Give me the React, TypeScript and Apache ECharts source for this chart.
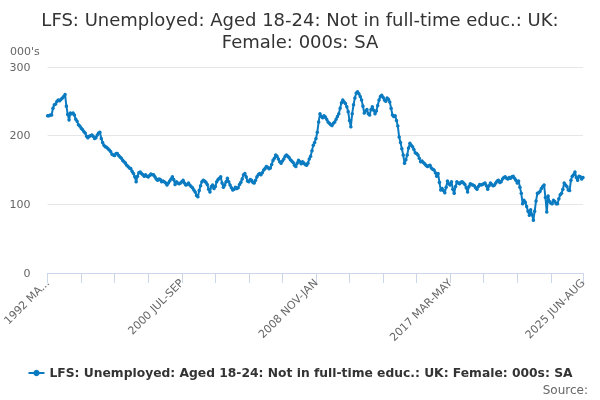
import * as echarts from "echarts";
import { useEffect, useRef } from "react";

const MONTHS = ["JAN", "FEB", "MAR", "APR", "MAY", "JUN", "JUL", "AUG", "SEP", "OCT", "NOV", "DEC"];

// rolling quarters, 1992 MAR-MAY .. 2025 JUN-AUG
const periods: string[] = [];
for (let k = 0; k < 400; k++) {
	const m = 2 + k;
	const year = 1992 + Math.floor(m / 12);
	periods.push(`${year} ${MONTHS[m % 12]}-${MONTHS[(m + 2) % 12]}`);
}

const femaleUnemployed = [
	229, 229, 230, 230, 240, 245, 246, 250, 252, 251,
	253, 255, 257, 260, 243, 231, 223, 233, 232, 233,
	230, 224, 221, 216, 214, 211, 209, 206, 204, 199,
	197, 199, 200, 201, 199, 196, 197, 201, 204, 205,
	196, 190, 186, 184, 183, 181, 179, 177, 173, 172,
	171, 174, 174, 171, 169, 167, 164, 162, 160, 157,
	155, 153, 152, 148, 145, 140, 133, 141, 146, 147,
	145, 143, 141, 143, 141, 140, 142, 144, 143, 143,
	140, 137, 135, 137, 136, 133, 134, 133, 131, 128,
	131, 134, 137, 140, 136, 129, 133, 131, 130, 131,
	133, 135, 131, 128, 129, 131, 128, 126, 124, 121,
	118, 113, 111, 120, 127, 133, 135, 134, 132, 129,
	122, 118, 126, 128, 123, 126, 133, 136, 138, 140,
	131, 125, 128, 133, 138, 133, 128, 124, 121, 122,
	125, 123, 124, 129, 132, 137, 143, 145, 140, 134,
	133, 136, 135, 132, 131, 135, 140, 143, 145, 143,
	146, 150, 152, 155, 154, 152, 153, 158, 164, 167,
	172, 170, 166, 162, 160, 163, 166, 170, 172, 170,
	168, 165, 163, 161, 157, 155, 160, 164, 162, 159,
	162, 160, 158, 157, 160, 166, 170, 178, 186, 190,
	196, 205, 220, 232, 228, 226, 229, 227, 224, 220,
	218, 216, 215, 218, 220, 224, 228, 232, 240, 248,
	252, 249, 247, 242, 235, 222, 213, 232, 245, 255,
	262, 264, 261, 257, 252, 243, 233, 236, 238, 232,
	230, 238, 242, 237, 232, 236, 244, 252, 257, 259,
	256, 252, 250, 255, 253, 249, 240, 230, 228, 229,
	222, 214, 198, 190, 181, 172, 160, 165, 172, 182,
	189, 186, 184, 180, 175, 174, 172, 167, 162, 163,
	161, 159, 157, 155, 156, 157, 153, 151, 150, 146,
	141, 145, 132, 121, 123, 120, 117, 125, 134, 130,
	128, 133, 122, 116, 126, 133, 131, 130, 132, 133,
	131, 129, 124, 118, 126, 130, 129, 128, 127, 124,
	122, 126, 129, 128, 129, 130, 131, 127, 122, 127,
	131, 129, 127, 128, 131, 134, 135, 132, 133, 137,
	139, 140, 138, 137, 139, 138, 140, 141, 138, 135,
	131, 134, 125, 116, 101, 106, 103, 97, 90, 84,
	92, 85, 77, 90, 105, 116, 117, 119, 123, 126,
	128, 110, 89, 112, 104, 102, 101, 106, 104, 101,
	101, 108, 114, 116, 122, 131, 128, 126, 121, 120,
	135, 141, 143, 147, 139, 135, 141, 140, 137, 139,
];

const seriesName = "LFS: Unemployed: Aged 18-24: Not in full-time educ.: UK: Female: 000s: SA";
const FONT = "DejaVu Sans";
const BLUE = "#0b7bc1";

export default function App() {
	const chartRef = useRef<HTMLDivElement>(null);

	useEffect(() => {
		if (!chartRef.current) return;
		const chart = echarts.init(chartRef.current, null, { renderer: "svg" });
		const last = periods.length - 1;
		chart.setOption({
			animation: false,
			textStyle: { fontFamily: FONT },
			title: {
				text: "LFS: Unemployed: Aged 18-24: Not in full-time educ.: UK:\nFemale: 000s: SA",
				left: "center",
				top: 3,
				textStyle: { fontFamily: FONT, fontSize: 18, fontWeight: "normal", color: "#333333", lineHeight: 22 },
			},
			grid: { left: 47, right: 17, top: 67, bottom: 127 },
			legend: {
				bottom: 16,
				left: "center",
				itemWidth: 16,
				itemHeight: 8,
				itemGap: 4,
				textStyle: { fontFamily: FONT, fontSize: 12.3, fontWeight: "bold", color: "#333333" },
				data: [seriesName],
			},
			xAxis: {
				type: "category",
				data: periods,
				boundaryGap: false,
				axisLine: { lineStyle: { color: "#ccd6eb" } },
				axisTick: {
					length: 10,
					lineStyle: { color: "#ccd6eb" },
					interval: (i: number) => i % 25 === 0 || i === last,
				},
				axisLabel: {
					rotate: 45,
					color: "#666666",
					fontSize: 11,
					margin: 8,
					showMaxLabel: true,
					interval: (i: number) => i % 100 === 0 || i === last,
					formatter: (v: string, i: number) => (i === 0 ? v.slice(0, 7) + "..." : v),
				},
				splitLine: { show: false },
			},
			yAxis: {
				type: "value",
				min: 0,
				max: 300,
				interval: 100,
				axisLine: { show: false },
				axisTick: { show: false },
				axisLabel: { color: "#666666", fontSize: 11, margin: 17 },
				splitLine: { lineStyle: { color: "#e6e6e6" } },
			},
			graphic: [
				{ type: "text", left: 10, top: 46, style: { text: "000's", fill: "#666666", font: `11px "${FONT}"` } },
				{ type: "text", right: 12, bottom: 4, style: { text: "Source:", fill: "#666666", font: `12px "${FONT}"` } },
			],
			series: [
				{
					name: seriesName,
					type: "line",
					data: femaleUnemployed,
					symbol: "circle",
					symbolSize: 3.5,
					showAllSymbol: true,
					lineStyle: { color: BLUE, width: 2 },
					itemStyle: { color: BLUE },
				},
			],
		});
		return () => {
			chart.dispose();
		};
	}, []);

	return <div ref={chartRef} style={{ position: "fixed", left: 0, top: 0, width: 600, height: 400 }} />;
}
